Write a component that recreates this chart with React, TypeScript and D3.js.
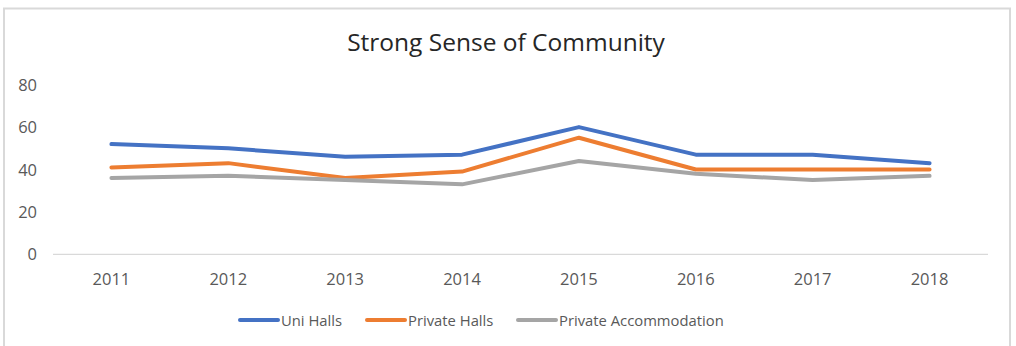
import React from "react";
import * as d3 from "d3";

const years = ["2011", "2012", "2013", "2014", "2015", "2016", "2017", "2018"];
const uniHalls = [52, 50, 46, 47, 60, 47, 47, 43];
const privateHalls = [41, 43, 36, 39, 55, 40, 40, 40];
const privateAccommodation = [36, 37, 35, 33, 44, 38, 35, 37];
const yTicks = [0, 20, 40, 60, 80];

const seriesNames = ["Uni Halls", "Private Halls", "Private Accommodation"];
const seriesValues = [uniHalls, privateHalls, privateAccommodation];
const colors = ["#4472C4", "#ED7D31", "#A5A5A5"];

const W = 1016;
const H = 346;
const FONT = "'Open Sans', 'Liberation Sans', sans-serif";

export default function App() {
  const x = d3.scaleBand<string>().domain(years).range([53, 988]).paddingInner(0).paddingOuter(0);
  const y = d3.scaleLinear().domain([0, 80]).range([254.3, 84.7]);
  const line = d3
    .line<number>()
    .x((_, i) => (x(years[i]) as number) + x.bandwidth() / 2)
    .y((d) => y(d));

  const legendX = [240, 367, 518];

  return (
    <svg
      width={W}
      height={H}
      style={{ position: "absolute", left: 0, top: 0, background: "#fff" }}
      fontFamily={FONT}
    >
      <rect x={0} y={0} width={W} height={H} fill="#fff" />
      <rect x={4} y={8.5} width={1006} height={400} fill="#fff" stroke="#d9d9d9" strokeWidth={2} />
      <text x={506} y={51} textAnchor="middle" fontSize={24.5} fill="#262626">
        Strong Sense of Community
      </text>
      {yTicks.map((t) => (
        <text key={t} x={37} y={y(t) + 6} textAnchor="end" fontSize={16.5} fill="#595959">
          {t}
        </text>
      ))}
      <line x1={53} x2={988} y1={y(0)} y2={y(0)} stroke="#d9d9d9" strokeWidth={1.3} />
      {years.map((yr) => (
        <text
          key={yr}
          x={(x(yr) as number) + x.bandwidth() / 2}
          y={285}
          textAnchor="middle"
          fontSize={16.5}
          fill="#595959"
        >
          {yr}
        </text>
      ))}
      {seriesValues.map((vals, i) => (
        <path
          key={seriesNames[i]}
          d={line(vals) || ""}
          fill="none"
          stroke={colors[i]}
          strokeWidth={4}
          strokeLinejoin="round"
          strokeLinecap="round"
        />
      ))}
      {seriesNames.map((name, i) => (
        <g key={name}>
          <line
            x1={legendX[i]}
            x2={legendX[i] + 38}
            y1={320}
            y2={320}
            stroke={colors[i]}
            strokeWidth={4}
            strokeLinecap="round"
          />
          <text x={legendX[i] + 41} y={325.5} fontSize={14.8} fill="#595959">
            {name}
          </text>
        </g>
      ))}
    </svg>
  );
}
